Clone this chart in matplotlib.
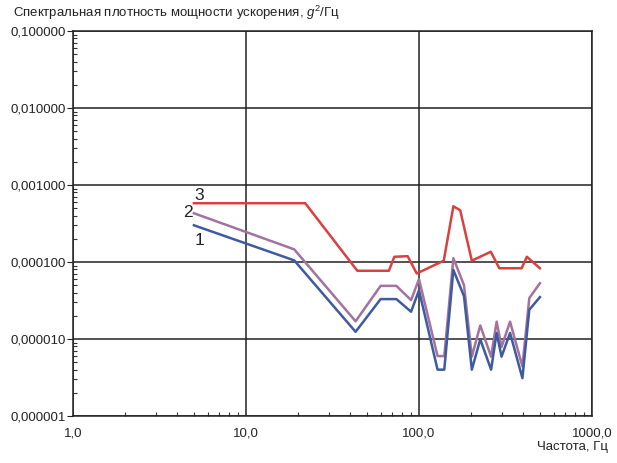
import matplotlib
matplotlib.use("Agg")
import matplotlib.pyplot as plt
from matplotlib.ticker import FixedLocator, LogLocator, NullFormatter

# Frequency grid (Hz) shared by curves 1 and 2
freq_12 = [5, 19, 43, 60, 74, 90, 100, 128, 140, 158, 182, 202, 226, 261,
           281, 300, 336, 396, 434, 500]
psd_1 = [3.0e-4, 1.05e-4, 1.24e-5, 3.3e-5, 3.3e-5, 2.26e-5, 4.3e-5, 4.0e-6,
         4.0e-6, 7.9e-5, 3.6e-5, 4.0e-6, 9.9e-6, 4.0e-6, 1.2e-5, 5.9e-6,
         1.2e-5, 3.1e-6, 2.4e-5, 3.5e-5]
psd_2 = [4.3e-4, 1.46e-4, 1.7e-5, 4.9e-5, 4.9e-5, 3.2e-5, 6.0e-5, 6.0e-6,
         6.0e-6, 1.12e-4, 5.0e-5, 5.9e-6, 1.5e-5, 5.9e-6, 1.68e-5, 7.9e-6,
         1.68e-5, 4.4e-6, 3.4e-5, 5.3e-5]

# Curve 3
freq_3 = [5, 22, 44, 67, 72, 86, 97, 139, 158, 173, 202, 260, 291, 392, 420, 500]
psd_3 = [5.8e-4, 5.8e-4, 7.7e-5, 7.7e-5, 1.17e-4, 1.19e-4, 7.1e-5, 1.04e-4,
         5.3e-4, 4.7e-4, 1.04e-4, 1.36e-4, 8.3e-5, 8.3e-5, 1.17e-4, 8.3e-5]

y_ticks = [1e-6, 1e-5, 1e-4, 1e-3, 1e-2, 1e-1]
y_labels = ["0,000001", "0,000010", "0,000100", "0,001000", "0,010000", "0,100000"]
x_ticks = [1, 10, 100, 1000]
x_labels = ["1,0", "10,0", "100,0", "1000,0"]

plt.rcParams["font.family"] = ["Liberation Sans", "DejaVu Sans"]
plt.rcParams["mathtext.fontset"] = "custom"
plt.rcParams["mathtext.rm"] = "Liberation Sans"
plt.rcParams["mathtext.it"] = "Liberation Sans:italic"

fig = plt.figure(figsize=(6.17, 4.63), dpi=100)
ax = fig.add_axes([0.1183, 0.1015, 0.8412, 0.8315])

ax.plot(freq_3, psd_3, color="#d9403f", lw=1.8)
ax.plot(freq_12, psd_2, color="#a3729f", lw=1.8)
ax.plot(freq_12, psd_1, color="#3d5b9e", lw=1.8)

ax.set_xscale("log")
ax.set_yscale("log")
ax.set_xlim(1, 1000)
ax.set_ylim(1e-6, 1e-1)

ax.xaxis.set_major_locator(FixedLocator(x_ticks))
ax.set_xticklabels(x_labels, fontsize=9.5)
ax.yaxis.set_major_locator(FixedLocator(y_ticks))
ax.set_yticklabels(y_labels, fontsize=9.5)
ax.xaxis.set_minor_locator(LogLocator(base=10, subs=range(2, 10)))
ax.yaxis.set_minor_locator(LogLocator(base=10, subs=range(2, 10)))
ax.xaxis.set_minor_formatter(NullFormatter())
ax.yaxis.set_minor_formatter(NullFormatter())

ax.tick_params(axis="x", which="major", length=0, pad=8, colors="#222222")
ax.tick_params(axis="y", which="major", length=4, direction="out", pad=1, colors="#222222")
ax.tick_params(which="minor", length=3, direction="in", color="#333333", width=0.8)

ax.grid(True, which="major", color="#222222", lw=1.1)
for s in ax.spines.values():
    s.set_color("#222222")
    s.set_linewidth(1.1)

# curve numbers
ax.text(5.35, 7.4e-4, "3", fontsize=12.5, ha="center", va="center", color="#222222")
ax.text(4.62, 4.4e-4, "2", fontsize=12.5, ha="center", va="center", color="#222222")
ax.text(5.35, 1.9e-4, "1", fontsize=12.5, ha="center", va="center", color="#222222")

fig.text(13 / 617, 1 - 13 / 463, "Спектральная плотность мощности ускорения, $g^2$/Гц",
         fontsize=9.5, ha="left", va="center", color="#222222")
fig.text(608 / 617, 1 - 447 / 463, "Частота, Гц", fontsize=9.5, ha="right",
         va="center", color="#222222")

fig.savefig("out.png", dpi=100)
